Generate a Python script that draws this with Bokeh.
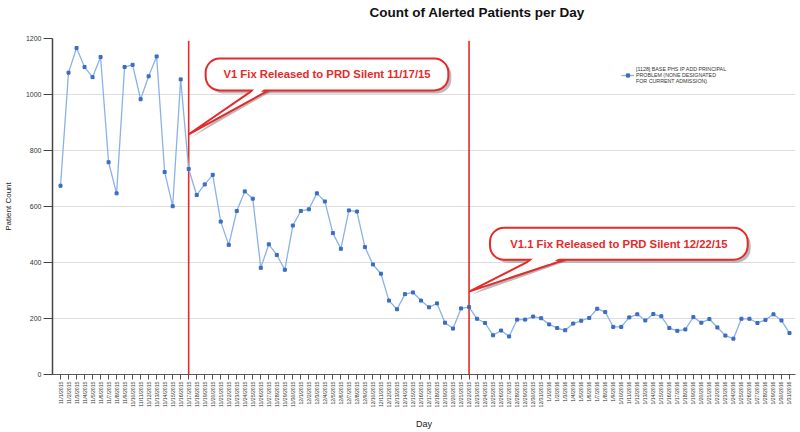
import math
import pandas as pd
from bokeh.plotting import figure
from bokeh.models import (FixedTicker, BoxAnnotation, PolyAnnotation, Label,
                          Legend, LegendItem, Range1d, ColumnDataSource)
from bokeh.embed import file_html
from bokeh.resources import INLINE

# ---------------- data ----------------
dates = pd.date_range("2015-11-01", "2016-01-31", freq="D")
date_labels = [f"{d.month}/{d.day}/{d.year}" for d in dates]

patient_counts = [
    674, 1078, 1166, 1098, 1062, 1134, 758, 647, 1098, 1106, 983, 1065, 1136, 723, 601, 1054,
    734, 641, 679, 713, 546, 463, 584, 654, 628, 381, 465, 427, 374, 532, 584, 590, 647, 618,
    505, 449, 586, 582, 455, 393, 360, 264, 233, 287, 293, 264, 240, 254, 185, 164, 236, 241,
    199, 184, 140, 157, 136, 196, 196, 207, 201, 179, 166, 158, 182, 192, 202, 235, 223, 170,
    170, 204, 215, 193, 216, 208, 166, 156, 161, 205, 185, 198, 168, 139, 128, 199, 199, 184,
    195, 215, 193, 148,
]

chart_title = "Count of Alerted Patients per Day"
series_label = "[1128] BASE PHS IP ADD PRINCIPAL\nPROBLEM (NONE DESIGNATED\nFOR CURRENT ADMISSION)"
release_dates = ["11/17/2015", "12/22/2015"]
release_texts = ["V1 Fix Released to PRD Silent 11/17/15",
                 "V1.1 Fix Released to PRD Silent 12/22/15"]
y_ticks = [0, 200, 400, 600, 800, 1000, 1200]

# ---------------- layout ----------------
FONT = "Liberation Sans"
W, H = 800, 432
ML, MR, MT, MB = 51, 5, 38, 57
FRAME_W = W - ML - MR
FRAME_H = H - MT - MB
X0, X1 = -1, 91.75
Y0, Y1 = 0, 1200
PX_X = (X1 - X0) / FRAME_W
PX_Y = (Y1 - Y0) / FRAME_H

x_idx = list(range(len(date_labels)))
src = ColumnDataSource(dict(x=x_idx, y=patient_counts, d=date_labels))

p = figure(width=W, height=H, output_backend="svg", toolbar_location=None,
           x_range=Range1d(X0, X1), y_range=Range1d(Y0, Y1),
           min_border_left=ML, min_border_right=MR, min_border_top=MT,
           min_border_bottom=MB, background_fill_color="white",
           border_fill_color="white")
p.outline_line_color = None

# a blank second line lifts the title towards the top of the border
p.title.text = chart_title + "\n\u00a0"
p.title.align = "left"
p.title.offset = 317
p.title.text_font = FONT
p.title.text_font_size = "13.5px"
p.title.text_font_style = "bold"
p.title.text_color = "#111111"
p.title.text_line_height = 1.2
p.title.standoff = 2

# axes
xa = p.xaxis[0]
xa.ticker = FixedTicker(ticks=x_idx)
xa.major_label_overrides = {i: s for i, s in zip(x_idx, date_labels)}
xa.major_label_orientation = math.pi / 2
xa.major_label_text_font = FONT
xa.major_label_text_font_size = "5.2px"
xa.major_label_text_color = "#333333"
xa.major_label_standoff = 2
xa.major_tick_in = 0
xa.major_tick_out = 5
xa.minor_tick_out = 0
xa.minor_tick_in = 0
xa.axis_line_color = "#555555"
xa.major_tick_line_color = "#555555"
xa.axis_label = "Day"
xa.axis_label_text_font = FONT
xa.axis_label_text_font_size = "9px"
xa.axis_label_text_font_style = "normal"
xa.axis_label_text_color = "#222222"
xa.axis_label_standoff = 9

ya = p.yaxis[0]
ya.ticker = FixedTicker(ticks=y_ticks)
ya.major_label_text_font = FONT
ya.major_label_text_font_size = "7px"
ya.major_label_text_color = "#333333"
ya.major_label_standoff = 2
ya.major_tick_in = 0
ya.major_tick_out = 9
ya.minor_tick_out = 0
ya.minor_tick_in = 0
ya.axis_line_color = "#444444"
ya.axis_line_width = 1.5
ya.major_tick_line_color = "#444444"
ya.axis_label = "Patient Count"
ya.axis_label_text_font = FONT
ya.axis_label_text_font_size = "8px"
ya.axis_label_text_font_style = "normal"
ya.axis_label_text_color = "#222222"
ya.axis_label_standoff = 10

p.xgrid.visible = False
p.ygrid.grid_line_color = "#dedede"
p.ygrid.ticker = FixedTicker(ticks=y_ticks)

# release lines
rel_idx = [date_labels.index(d) for d in release_dates]
p.segment(x0=rel_idx, x1=rel_idx, y0=[0, 0], y1=[1192, 1192],
          line_color="#e52a2a", line_width=1.6)

# series
lr = p.line("x", "y", source=src, line_color="#8ab2e8", line_width=1.3)
sr = p.scatter("x", "y", source=src, marker="square", size=3,
               fill_color="#3b6cc4", line_color="#3b6cc4")

legend = Legend(items=[LegendItem(label=series_label, renderers=[lr, sr])],
                location=(569, 290), padding=0, margin=0, spacing=0,
                glyph_width=13, glyph_height=8, label_standoff=2,
                label_text_font=FONT, label_text_font_size="5.3px",
                label_text_color="#333333", border_line_color=None,
                background_fill_alpha=0)
p.add_layout(legend, "center")

# callouts (pixel offsets relative to the tail tip)
callouts = [
    dict(tip_y=858, box=(17, 260, -76, -44), tail=(64, 80)),
    dict(tip_y=296, box=(21, 279, -64, -32), tail=(63, 96)),
]
RED = "#e52a2a"
for xi, txt, c in zip(rel_idx, release_texts, callouts):
    ty = c["tip_y"]
    X = lambda dx, xi=xi: xi + dx * PX_X
    Y = lambda dy, ty=ty: ty - dy * PX_Y
    l, r, t, b = c["box"]
    t0, t1 = c["tail"]
    sh = 3
    # shadow
    p.add_layout(BoxAnnotation(left=X(l + sh), right=X(r + sh), top=Y(t + sh),
                               bottom=Y(b + sh), fill_color="#555555", fill_alpha=0.4,
                               line_color=None, border_radius=14))
    p.add_layout(PolyAnnotation(xs=[X(t0 + sh), X(t1 + sh), X(sh)],
                                ys=[Y(b + sh - 2), Y(b + sh - 2), Y(sh)],
                                fill_color="#555555", fill_alpha=0.4, line_color=None))
    # tail
    p.add_layout(PolyAnnotation(xs=[X(t0), X(t1), X(0)], ys=[Y(b), Y(b), Y(0)],
                                fill_color="white", fill_alpha=1, line_color=RED,
                                line_alpha=1, line_width=2))
    # box
    p.add_layout(BoxAnnotation(left=X(l), right=X(r), top=Y(t), bottom=Y(b),
                               fill_color="white", fill_alpha=1, line_color=RED,
                               line_alpha=1, line_width=2, border_radius=14))
    # cover the joint between box and tail
    f = (b + 4) / b
    p.add_layout(PolyAnnotation(xs=[X(t0 + 3), X(t1 - 3), X(t1 * f - 3), X(t0 * f + 3)],
                                ys=[Y(b - 3), Y(b - 3), Y(b + 4), Y(b + 4)],
                                fill_color="white", fill_alpha=1, line_color=None))
    p.add_layout(Label(x=X((l + r) / 2), y=Y((t + b) / 2), text=txt,
                       text_align="center", text_baseline="middle",
                       text_font=FONT, text_font_size="11.3px", text_font_style="bold",
                       text_color=RED))

open("out.html", "w").write(file_html(p, INLINE))
